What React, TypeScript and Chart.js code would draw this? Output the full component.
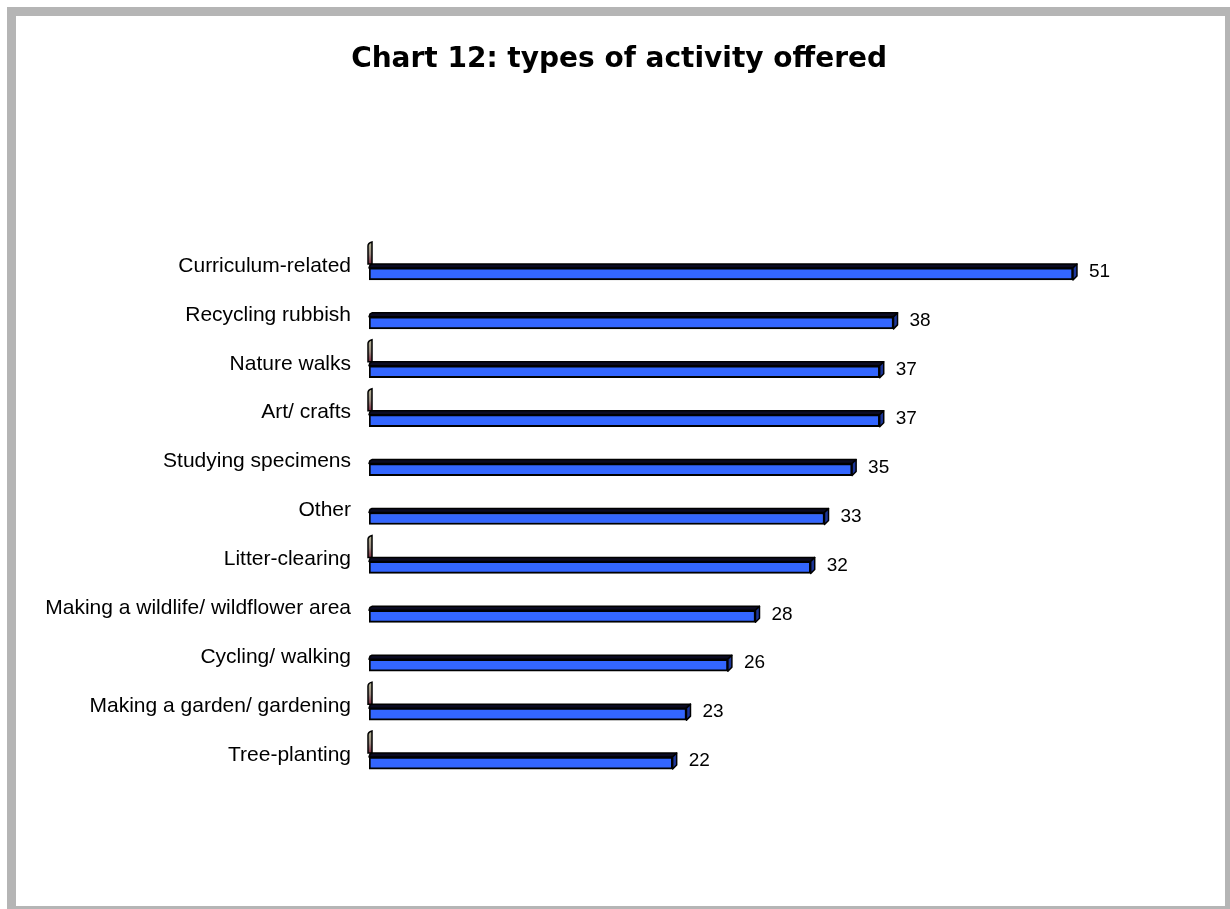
import React, { useEffect, useRef } from "react";
import { Chart, registerables } from "chart.js";

Chart.register(...registerables);

const categories = [
  "Curriculum-related",
  "Recycling rubbish",
  "Nature walks",
  "Art/ crafts",
  "Studying specimens",
  "Other",
  "Litter-clearing",
  "Making a wildlife/ wildflower area",
  "Cycling/ walking",
  "Making a garden/ gardening",
  "Tree-planting",
];
const values = [51, 38, 37, 37, 35, 33, 32, 28, 26, 23, 22];
// second (empty) series that shows only as a thin zero-height stub
const zeroSeries: (number | null)[] = [0, null, 0, 0, null, null, 0, null, null, 0, 0];
const titleText = "Chart 12: types of activity offered";
const xMin = 0;
const xMax = 60;

const LABEL_FONT = "'Liberation Sans', Arial, Helvetica, sans-serif";

const bar3d = {
  id: "bar3d",
  afterDatasetsDraw(chart: any) {
    const ctx = chart.ctx as CanvasRenderingContext2D;
    const d = 4;
    // zero-series stubs
    const meta1 = chart.getDatasetMeta(1);
    meta1.data.forEach((el: any, i: number) => {
      if (zeroSeries[i] === null) return;
      const { y, base, height } = el.getProps(["x", "y", "base", "height"], true);
      const top = y - height / 2 - d;
      const x0 = base - 1;
      ctx.save();
      const g = ctx.createLinearGradient(0, top - 22, 0, top);
      g.addColorStop(0, "#b8b898");
      g.addColorStop(0.55, "#9a8a80");
      g.addColorStop(1, "#7a2a40");
      ctx.beginPath();
      ctx.moveTo(x0, top);
      ctx.lineTo(x0, top - 18);
      ctx.quadraticCurveTo(x0, top - 21, x0 + 4, top - 22);
      ctx.lineTo(x0 + 4, top);
      ctx.closePath();
      ctx.fillStyle = g;
      ctx.fill();
      ctx.lineWidth = 1.5;
      ctx.strokeStyle = "#000";
      ctx.stroke();
      ctx.restore();
    });
    // main bars: top and side faces plus value labels
    const meta = chart.getDatasetMeta(0);
    meta.data.forEach((el: any, i: number) => {
      const { x, y, base, height } = el.getProps(["x", "y", "base", "height"], true);
      const top = y - height / 2;
      const bottom = y + height / 2;
      ctx.save();
      ctx.lineWidth = 1.5;
      ctx.strokeStyle = "#000";
      ctx.lineJoin = "round";
      ctx.beginPath();
      ctx.moveTo(base, top);
      ctx.lineTo(base + 1, top - d + 1);
      ctx.lineTo(base + 3, top - d);
      ctx.lineTo(x + d, top - d);
      ctx.lineTo(x, top);
      ctx.closePath();
      ctx.fillStyle = "#0b0b22";
      ctx.fill();
      ctx.stroke();
      ctx.beginPath();
      ctx.moveTo(x, top);
      ctx.lineTo(x + d, top - d);
      ctx.lineTo(x + d, bottom - d);
      ctx.lineTo(x, bottom);
      ctx.closePath();
      ctx.fillStyle = "#1c3699";
      ctx.fill();
      ctx.stroke();
      ctx.fillStyle = "#000";
      ctx.font = `19px ${LABEL_FONT}`;
      ctx.textBaseline = "middle";
      ctx.textAlign = "left";
      ctx.fillText(String(values[i]), x + d + 12, y - 2);
      ctx.restore();
    });
  },
};

export default function App() {
  const ref = useRef<HTMLCanvasElement | null>(null);
  useEffect(() => {
    if (!ref.current) return;
    const chart = new Chart(ref.current, {
      type: "bar",
      data: {
        labels: categories,
        datasets: [
          {
            label: "Activities",
            data: values,
            backgroundColor: "#3366ff",
            borderColor: "#000000",
            borderWidth: 2,
            borderSkipped: false,
            barThickness: 12,
            grouped: false,
          } as any,
          {
            label: "Series 2",
            data: zeroSeries,
            backgroundColor: "rgba(0,0,0,0)",
            borderWidth: 0,
            barThickness: 12,
            grouped: false,
          } as any,
        ],
      },
      options: {
        indexAxis: "y",
        responsive: false,
        animation: false,
        devicePixelRatio: 1,
        events: [],
        layout: { padding: { left: 41, right: 32.8, top: 0, bottom: 121.5 } },
        plugins: {
          legend: { display: false },
          tooltip: { enabled: false },
          title: {
            display: true,
            text: titleText,
            color: "#000",
            font: { family: "'DejaVu Sans', Verdana, sans-serif", size: 28, weight: "bold" },
            padding: { top: 42.5, bottom: 173.4 },
          },
        },
        scales: {
          x: { display: false, min: xMin, max: xMax },
          y: {
            grid: { display: false, drawTicks: false },
            border: { display: false },
            ticks: {
              padding: 18,
              labelOffset: -8,
              color: "#000",
              autoSkip: false,
              font: { family: LABEL_FONT, size: 21 },
            },
            afterFit: (s: any) => {
              s.width = 328;
            },
          },
        },
      } as any,
      plugins: [bar3d],
    });
    return () => chart.destroy();
  }, []);

  return (
    <>
      <style>{`html,body{margin:0;padding:0;overflow:hidden;background:#fff}`}</style>
      <div
        style={{
          position: "fixed",
          left: 7,
          top: 7,
          width: 1227,
          height: 908,
          border: "9px solid #b5b5b5",
          boxSizing: "border-box",
          background: "#fff",
        }}
      />
      <canvas
        ref={ref}
        width={1230}
        height={909}
        style={{ position: "fixed", left: 0, top: 0, width: 1230, height: 909 }}
      />
    </>
  );
}
